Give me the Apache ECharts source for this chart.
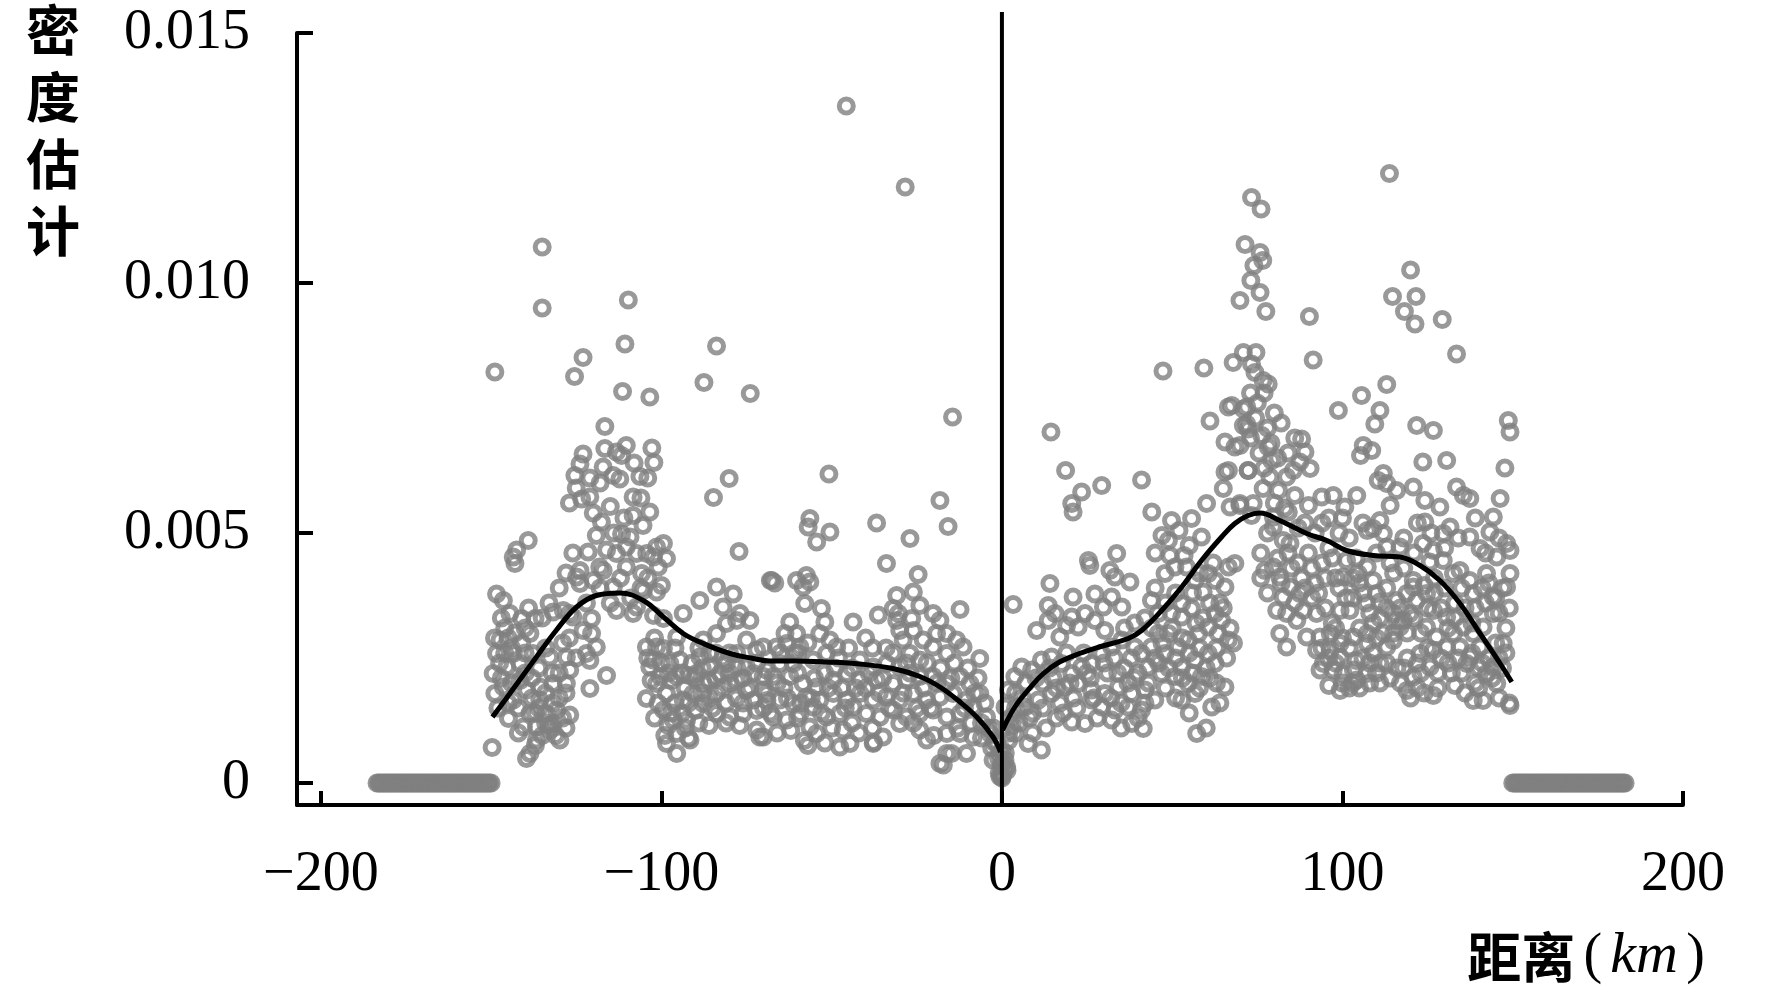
<!DOCTYPE html>
<html>
<head>
<meta charset="utf-8">
<script src="https://cdn.jsdelivr.net/npm/echarts@6/dist/echarts.min.js"></script>
<style>
  html, body { margin: 0; padding: 0; background: #fff; }
  #main { width: 1772px; height: 998px; }
</style>
</head>
<body>
<div id="main"></div>
<script>
// axis ticks
const xTicks = [-200, -100, 0, 100, 200];
const yTicks = [0, 0.005, 0.010, 0.015];

// distance (km), density x 1000
const pointsLeft = [
  [-148.9,8.22],[-135,10.72],[-135,9.50],[-109.7,9.66],[-110.7,8.78],[-123,8.51],[-125.5,8.13],[-111.4,7.83],
  [-103.4,7.72],[-83.8,8.74],[-87.5,8.01],[-73.9,7.79],[-45.7,13.54],[-28.4,11.92],[-14.5,7.32],[-50.8,6.18],
  [-80.1,6.09],[-84.7,5.71],[-102.8,6.70],[-102.2,6.41],[-116.6,7.13],[-18.2,5.65],[-15.8,5.13],[-36.8,5.2],
  [-27,4.89],[-33.9,4.39],[-56.4,5.29],[-56.9,5.12],[-54.4,4.82],[-50.5,5.02],[-77.2,4.63],[-149.7,0.71],
  [-123,6.58],[-125.4,6.15],[-123.9,6.38],[-116.6,6.69],[-117.1,6.32],[-113.2,6.62],[-110.3,6.75],[-111.7,6.55],
  [-114.2,6.15],[-112.2,6.08],[-106.3,6.13],[-123.4,5.68],[-121,5.72],[-115,5.53],[-108.3,5.72],[-108.3,5.35],
  [-103.4,5.42],[-105.4,5.15],[-117.6,5.22],[-119.1,4.95],[-111.7,4.98],[-109.2,4.92],[-110.3,4.72],[-113.2,4.59],
  [-107.3,4.59],[-105.8,4.19],[-110.3,4.32],[-104.3,4.59],[-101.4,4.72],[-99.4,4.79],[-98.5,4.49],[-100.9,4.32],
  [-102.3,4.52],[-121.5,4.62],[-116.1,4.66],[-118.1,4.32],[-123.9,4.25],[-124.9,4.12],[-123.9,3.99],[-120,4.05],
  [-117.1,4.25],[-114.1,3.92],[-105.3,3.85],[-101.4,3.82],[-107.3,3.52],[-113.2,3.45],[-108.3,3.39],[-102.3,3.35],
  [-99.4,3.29],[-120.5,3.29],[-126.9,3.39],[-131.8,3.42],[-128.8,3.45],[-137.1,3.29],[-141,3.29],[-146.4,3.65],
  [-148.4,3.78],[-144.5,3.39],[-143.5,4.52],[-143,4.39],[-139.1,4.85],[-142.5,4.66],
  [-147.4,2.86],[-148.4,2.59],[-149.4,2.19],[-148.9,1.79],[-145.4,2.32],[-143.5,2.59],[-141.5,2.05],[-146.4,1.92],
  [-143.5,1.66],[-139.6,1.86],[-141.5,2.39],[-138.6,2.99],[-137.7,2.59],[-132.8,2.52],[-127.9,2.52],[-126.9,2.26],
  [-127.9,1.99],[-131.8,1.99],[-135.7,1.92],[-135.7,1.66],[-138.6,1.39],[-133.8,1.39],[-130.8,1.46],[-126.9,1.36],
  [-144.9,1.29],[-140.5,1.12],[-136.7,1.12],[-132.8,1.06],[-129.8,0.86],[-136.7,0.86],[-138.6,0.59],[-139.6,0.49],
  [-131.8,1.19],[-126,3.32],[-123,3.05],[-120.5,2.99],[-122,2.59],[-119.1,2.72],[-121,2.45],[-116.1,2.15],[-121,1.89],
  [-146,2.6],[-144,2.0],[-142,1.5],[-140,2.2],[-138,1.7],[-136,2.3],[-134,1.8],[-132,1.6],[-130,2.2],[-128,1.8],
  [-134,2.7],[-137,1.4],[-141,2.8],[-147,2.1],[-129,1.3],[-133,1.15],[-135,0.95],
  [-147.5,2.4],[-145,2.9],[-143,3.0],[-140,2.6],[-138,2.1],[-136,1.5],[-134,1.2],[-132,2.2],[-130,1.7],[-128,1.1],
  [-131,0.95],[-137,0.75],[-142,1.0],[-145,1.6],[-148,1.5],[-127,2.9],[-125,2.5],[-129,2.8],[-140,3.1],[-144,2.7],
  [-122,3.6],[-118,3.9],[-115,3.6],[-112,4.1],[-109,3.7],[-106,3.9],[-104,4.1],[-100,3.95],[-111,5.3],[-114,5.0],
  [-120,5.4],[-108,6.4],[-104,6.1],[-106,5.7],[-118,6.0],[-121,6.1],[-125,5.9],[-127,5.6],[-126,4.6],[-128,4.2],
  [-130,3.9],[-133,3.6],[-135,3.3],[-139,3.5],[-146,3.1],[-149,2.9],[-147,3.3],
  [-104.4,2.72],[-101.4,2.72],[-99.4,2.69],[-102.4,2.46],[-103.4,2.32],[-97.5,2.39],[-94.6,2.46],[-95.5,2.13],
  [-100.4,2.13],[-101.4,1.99],[-104.4,1.69],[-98.5,1.79],[-99.4,1.46],[-96.5,1.26],[-92.6,1.26],[-93.6,1.66],
  [-90.7,1.79],[-87.7,1.99],[-89.7,2.19],[-85.8,2.32],[-82.8,2.19],[-79.9,1.99],[-83.8,1.79],[-87.7,1.59],
  [-83.8,1.39],[-79.9,1.32],[-76,1.39],[-73,1.66],[-70.1,1.86],[-72,1.06],[-71.1,0.92],[-95.5,0.99],[-91.6,0.86],
  [-95.5,0.59],[-98.5,0.79],[-88.7,2.52],[-87.7,2.86],[-83.8,2.99],[-80.9,3.19],[-77.9,3.25],[-76.9,3.39],[-74,3.25],
  [-85.8,2.59],[-77.9,2.59],[-75,2.86],[-72,2.66],[-70.1,2.13],[-73,2.19],[-75,2.32],[-77.9,2.32],[-80.9,2.39],
  [-93.6,3.39],[-95.5,2.92],[-88.7,3.65],[-83.8,3.92],[-78.9,3.78],[-81.9,3.52],[-68,4.05],
  [-97,2.05],[-93,1.9],[-91,2.4],[-86,2.05],[-82,2.5],[-78,2.05],[-75,1.85],[-72,1.45],[-69,1.65],[-90,1.45],
  [-86,1.15],[-81,1.6],[-77,1.15],[-94,1.4],[-98,1.15],[-92,2.15],[-88,1.8],[-84,2.6],[-80,2.2],[-76,1.6],
  [-101,1.6],[-103,2.05],[-96,2.7],[-89,2.7],
  [-104,2.5],[-102,2.9],[-100,2.4],[-98,2.2],[-96,1.6],[-94,2.2],[-92,1.6],[-90,2.1],[-88,2.3],[-86,1.7],
  [-84,2.1],[-82,1.9],[-80,2.6],[-78,1.7],[-76,2.1],[-74,1.9],[-72,2.4],[-70,1.5],[-97,1.4],[-93,1.1],
  [-89,1.2],[-85,1.5],[-81,1.2],[-102,1.3],[-99,0.95],[-92,0.9],
  [-24.6,4.17],[-26,3.82],[-12.3,3.47],[-6.5,2.49],[-67.6,4.05],[-66.7,4.0],[-60.3,4.05],[-57.4,4.15],[-56.4,4.02],
  [-58.4,3.92],[-57.9,3.59],[-53,3.49],[-52,3.22],[-62.3,3.22],[-63.7,2.99],[-60.3,2.99],[-43.7,3.22],[-36.3,3.36],
  [-30.9,3.75],[-31.9,3.49],[-30.4,3.39],[-24.1,3.55],[-26.5,3.29],[-20.2,3.39],[-18.2,3.25],[-19.2,2.99],[-26,3.05],
  [-23.1,2.86],[-20.2,2.72],[-16.2,2.99],[-13.3,2.86],[-11.4,2.72],[-16.2,2.59],[-29,2.86],[-30,3.05],[-30.9,3.25],
  [-27,2.59],[-24.1,2.46],
  [-70.1,2.72],[-66.2,2.72],[-63.2,2.79],[-59.3,2.72],[-53.5,2.99],[-50.5,2.86],[-48.5,2.72],[-51.5,2.59],[-55.4,2.46],
  [-61.3,2.39],[-65.2,2.39],[-69.1,2.26],[-67.2,2.13],[-62.3,2.13],[-58.4,1.99],[-54.4,1.92],[-49.5,2.06],[-45.6,2.19],
  [-41.7,2.46],[-37.8,2.32],[-33.9,2.39],[-30,2.32],[-41.7,2.06],[-36.8,2.06],[-31.9,1.99],[-28,2.06],[-24.1,2.13],
  [-20.2,2.13],[-16.2,1.99],[-12.3,2.13],[-9.4,1.99],
  [-69.1,1.79],[-65.2,1.66],[-61.3,1.59],[-57.4,1.72],[-53.5,1.66],[-49.5,1.79],[-45.6,1.66],[-41.7,1.79],[-37.8,1.66],
  [-33.9,1.72],[-30,1.66],[-26,1.79],[-22.1,1.66],[-18.2,1.72],[-14.3,1.79],[-10.4,1.66],[-6.5,1.79],
  [-67.2,1.32],[-63.2,1.26],[-59.3,1.39],[-55.4,1.52],[-51.5,1.32],[-47.6,1.39],[-43.7,1.52],[-39.8,1.39],[-35.8,1.32],
  [-31.9,1.46],[-28,1.32],[-24.1,1.39],[-20.2,1.46],[-16.2,1.32],[-12.3,1.39],[-8.4,1.52],[-4.5,1.32],
  [-70.1,0.92],[-56.4,1.12],[-54.4,0.99],[-46.6,1.06],[-47.6,0.72],[-44.6,0.79],[-37.8,0.79],[-34.9,0.92],[-30,1.19],
  [-24.1,1.06],[-22.1,0.86],[-16.2,0.99],[-12.3,0.99],[-8.4,0.92],[-16.2,0.59],[-18.2,0.39],[-10.4,0.59],[-3.5,0.99],
  [-0.6,0.59],[-2.6,0.46],[-0.6,0.13],
  [-64,1.9],[-60,2.2],[-56,1.7],[-52,2.2],[-47,1.9],[-44,2.3],[-40,1.9],[-35,2.1],[-32,2.6],[-28,2.4],[-22,2.4],
  [-18,2.3],[-14,2.4],[-10,2.3],[-8,1.8],[-5,1.6],[-4,1.1],[-2,0.8],[-6,0.9],[-9,1.2],[-13,1.1],[-20,0.95],
  [-25,1.5],[-38,1.1],[-42,1.0],[-50,1.1],[-58,0.85],[-62,1.05],[-66,1.0],[-48,2.5],[-45,2.7],[-40,2.9],[-38,2.7],
  [-57,2.8],[-60,2.6],[-65,2.6],[-57,0.75],[-37.7,0.81],[-17.2,0.36],[-14.8,0.59],
  [-66,2.0],[-63,1.7],[-61,2.6],[-59,1.6],[-55,2.1],[-53,1.4],[-51,1.9],[-49,2.3],[-46,1.5],[-43,1.9],[-39,2.2],
  [-36,1.8],[-34,2.7],[-33,1.5],[-29,1.8],[-27,2.2],[-23,1.9],[-21,1.5],[-19,2.0],[-15,2.1],[-11,1.5],[-7,2.1],
  [-6,1.2],[-3,0.7],[-26,1.2],[-44,1.2],[-52,0.8],[-60,1.3],[-68,1.4],
  [0,0.1],[-0.3,0.35],[-1,0.5],[-1.5,0.8],[-2.5,1.1],[-0.8,0.2]
];

const pointsRight = [
  [0.4,0.2],[1,0.6],[2,0.85],[3,1.15],[0.2,0.4],[1.5,0.25],[1.4,0.32],
  [14.4,7.02],[18.7,6.25],[23.4,5.82],[20.5,5.59],[20.9,5.42],[29.3,5.95],[41,6.06],[44,5.42],[49.8,5.25],
  [55.7,5.29],[58.6,4.92],[60.1,5.59],[48.9,4.85],[49.3,4.55],[47.3,8.24],
  [61.1,7.24],[66.5,7.52],[70.9,7.48],[70.9,7.15],[72.3,7.08],[65.5,6.82],[68.4,6.72],[69.9,6.75],[65.5,6.22],
  [66.5,6.25],[72.3,6.25],[65,5.89],[67,5.52],[69.9,5.59],[73.3,5.35],[77.2,4.25],
  [33.7,4.59],[25.4,4.45],[25.8,4.35],[31.7,4.25],[33.2,4.12],[37.6,4.02],[14.1,3.99],[3.3,3.57],[13.6,3.55],
  [20.9,3.72],[27.3,3.78],[32.2,3.72],[35.2,3.52],[29.8,3.52],[24.4,3.39],[20.5,3.32],[15.6,3.39],[19,3.15],
  [10.2,3.05],[13.6,3.25],[17,2.92],[22.4,3.12],[27.3,3.25],[30.2,3.05],
  [43.9,3.65],[45.9,3.39],[47.9,4.19],[50.8,4.32],[54.2,4.32],[56.7,4.05],[60.6,4.19],[66.5,4.32],[68.4,4.39],
  [62.6,4.05],[65.5,3.92],[59.1,3.82],[52.8,3.59],[49.8,3.39],[52.8,3.32],[55.7,3.49],
  [62.6,3.39],[64.5,3.25],[66.5,2.86],[63.5,2.99],[60.6,3.12],[57.7,2.99],[54.7,2.86],[51.8,2.72],[48.9,2.99],
  [45.9,2.99],[43.9,2.72],[47.9,2.59],[52.8,2.32],[56.7,2.46],[60.6,2.59],[62.6,2.39],[58.6,2.13],[54.7,1.99],
  [50.8,2.13],[46.9,2.19],[42.9,2.32],[41,2.59],[39,2.72],[35.2,2.86],[32.2,2.72],[29.3,2.59],[26.3,2.39],
  [23.4,2.32],[20.5,2.19],[17.5,2.39],[14.6,2.52],[11.6,2.46],[8.7,2.26],[5.8,2.32],[3.8,2.13],[1.9,1.86],
  [0.9,1.52],[2.8,1.32],[6.8,1.52],[10.7,1.66],[14.6,1.79],[18.5,1.92],[22.4,1.99],[26.3,1.86],[30.2,1.79],
  [34.2,1.92],[38.1,1.79],[42,1.86],[44.9,1.66],[41,1.46],[37.1,1.52],[33.2,1.46],[29.3,1.52],[26.3,1.66],
  [32.2,1.26],[38.1,1.19],[41.5,1.09],[20.5,1.22],[24.4,1.19],[11.6,0.66],[7.7,0.79],[3.8,0.99],[0,0.66],
  [0.9,0.46],[0,0.13],[52.8,1.66],[56.7,1.79],[61.6,1.52],[65.5,1.92],[57.2,0.99],
  [4,1.8],[7,2.0],[9,1.4],[12,2.0],[15,2.1],[17,1.6],[19,2.6],[21,1.7],[24,2.6],[26,2.1],[28,1.3],[31,2.2],
  [33,2.5],[35,1.6],[36,2.3],[39,2.1],[40,1.3],[43,2.0],[45,2.5],[35,1.1],[16,1.3],[9,1.0],[13,1.1],[5,1.2],
  [44,3.1],[47,2.8],[50,3.1],[53,2.9],[55,2.6],[58,2.7],[60,2.3],[63,2.7],[67,3.1],[64,3.6],[59,3.3],[48,1.9],
  [51,1.7],[55,1.4],[60,1.1],[64,1.6],[47,4.95],[52,5.05],[55,4.75],[45,4.6],[53.5,4.55],
  [2,1.0],[4,1.5],[6,1.7],[8,1.3],[10,2.1],[12,1.5],[14,2.3],[16,1.9],[18,1.4],[20,2.0],[22,1.5],[25,2.2],
  [27,1.7],[30,2.4],[32,1.7],[34,2.2],[37,2.0],[38,2.5],[40,2.2],[42,1.6],[46,2.4],[49,2.3],[51,2.5],[53,2.1],
  [56,2.2],[58,1.9],[61,2.1],[63,2.0],[66,2.5],[68,2.8],[57,3.2],[61,3.6],[65,3.5],[62,4.4],[58,4.2],[56,3.8],
  [51,3.8],[48,3.6],[45,3.9],[42,3.3],[39,3.2],[36,3.1],
  [98.8,7.45],[105.6,7.75],[113,7.97],[111,7.45],[109.5,7.18],[108.6,6.65],[105.3,6.55],[106.1,6.75],[121.8,7.15],
  [126.7,7.05],[123.6,6.42],[130.6,6.45],[148.7,7.25],[149.2,7.02],[147.7,6.30],
  [71.9,7.52],[71.9,7.18],[76.3,6.95],[78.2,6.72],[79.2,6.45],[88,6.88],[89,6.62],[90.5,6.29],[87.5,6.42],
  [85.6,6.25],[83.6,6.12],[78.7,6.12],[76.7,5.89],[81.2,5.85],[86,5.75],[90,5.55],[93.9,5.72],[97.3,5.75],
  [100.7,5.52],[104.2,5.75],[72.3,6.25],[73.8,5.59],[69.9,5.55],[79.7,5.32],[84.1,5.42],[82.6,4.85],[84.6,4.79],
  [79.7,5.12],[74.5,7.3],[75.5,6.6],[77,6.3],[73,6.9],[78,7.1],
  [79,6.8],[81,6.5],[84,6.6],[86,6.9],[82,7.2],[80,7.4],[75,7.6],[77,7.8],[73,7.8],
  [112,6.19],[110.5,6.05],[113,5.99],[115.9,5.85],[120.8,5.92],[124.2,5.65],[128.6,5.52],[133.5,5.92],[135.5,5.75],
  [137.4,5.69],[146.3,5.69],[144.3,5.32],[143.3,5.02],[124.2,5.22],[114,5.55],[111,5.25],[109,5.09],[107.3,5.05],
  [112,4.99],[116.9,4.72],[113,4.72],[123.7,4.79],[126.7,4.65],[129.6,4.99],[131.6,5.12],[137.4,4.92],[140.4,4.69],
  [148.2,4.79],[149.2,4.65],[145.3,4.52],[142.3,4.19],[149.2,4.19],[148.2,3.92],[144.3,3.72],[138.4,3.79],[137.4,4.05],
  [134.5,4.25],[132.6,4.19],[129.6,4.45],[125.7,4.42],[120.8,4.05],[118.9,3.79],[115.9,3.65],[114.9,3.39],[117.9,3.25],
  [110,3.79],[111,3.62],[102.2,3.45],[99.3,3.45],[101.2,4.45],[100.2,4.12],[104.6,4.19],[107.3,4.32],[109,4.05],
  [80,5.6],[83,5.5],[87,5.1],[92,5.0],[96,5.3],[100,5.3],[106,5.2],[110,4.6],[114,4.4],[118,4.9],[122,5.2],
  [126,5.0],[130,4.7],[134,4.9],[139,5.3],[142,4.6],[146,4.9],
  [79.7,4.32],[81.6,4.12],[84.6,3.92],[87.5,3.79],[82.6,3.72],[80.7,3.45],[83.6,3.39],[88.5,3.45],[92.4,3.39],
  [86.6,3.25],[81.6,2.99],[83.6,2.72],[89.5,2.92],[93.4,2.92],[96.4,2.99],[99.3,2.79],[103.2,2.92],[107.3,2.99],
  [107.3,2.79],[92.4,2.66],[96.4,2.66],[99.3,2.52],[94.4,2.39],[93.4,2.26],[97.3,2.26],[100.2,2.19],[99.3,1.85],
  [103.2,2.26],[104.2,2.06],[107.3,2.19],[114.9,2.85],[113,2.72],[116.9,3.12],[119.8,3.39],[115.9,3.25],[121.8,3.65],
  [124.7,3.79],[126.7,3.45],[124.7,3.12],[127.6,2.92],[130.6,3.32],[132.6,2.99],[135.5,3.12],[138.4,2.99],[141.3,3.12],
  [144.3,3.39],[147.2,2.79],[140.4,2.72],[137.4,2.52],[134.5,2.72],[130.6,2.72],[126.7,2.66],[122.8,2.59],[125.7,2.32],
  [120.8,2.12],[118.9,1.85],[126.7,1.75],[138.4,1.65],[141.3,1.65],[145.3,1.99],[149.2,1.55],[144.3,2.32],[142.3,2.19],
  [136.5,2.39],[120.8,3.92],
  [76,4.6],[78,5.0],[81,4.5],[85,4.3],[88,4.1],[90,4.6],[92,4.0],[94,4.4],[96,4.7],[98,4.1],[91,3.7],[95,3.5],
  [97,3.2],[86,3.6],[78,3.8],[76,4.1],[89,5.2],[94,5.2],[99,5.0],[102,4.9],[104,4.5],[106,3.8],[108,3.4],[103,3.7],
  [105,3.1],[109,2.6],[111,2.4],[102,2.7],[104,2.45],[98,2.4],[100,2.0],[96,1.95],[102,1.9],[108,2.0],[110,2.9],
  [113,3.9],[115,4.2],[118,4.3],[121,4.6],[124,3.95],[127,4.1],[130,3.9],[133,3.6],[135,3.9],[139,3.5],[142,3.6],
  [146,3.4],[148,3.1],[145,2.8],[143,2.5],[140,2.3],[135,2.2],[131,2.4],[128,2.2],[123,2.2],[119,2.5],[116,2.3],
  [113,2.4],[112,3.0],[147,2.3],[149,1.6],[146,1.7],[139,2.0],[133,1.95],[120,1.7],[117,2.0],[111,2.0],
  [82,4.0],[84,4.6],[87,4.4],[89,3.9],[91,4.3],[93,3.8],[95,4.1],[97,4.5],[99,3.9],[101,3.7],[103,4.1],[105,4.0],
  [107,3.6],[109,3.2],[111,3.3],[113,3.5],[115,3.0],[117,3.5],[119,3.0],[121,3.3],[123,3.0],[125,3.5],[127,3.8],
  [129,3.5],[131,3.1],[133,3.3],[136,3.5],[138,3.2],[141,3.9],[143,4.0],[145,3.7],[147,3.9],[149,3.5],[100,2.9],
  [98,3.1],[96,2.5],[94,2.7],[106,2.5],[108,2.4],[103,2.0],[105,1.9],[110,2.2],[114,2.1],[118,2.3],[122,2.4],
  [125,2.7],[129,2.5],[132,2.2],[134,2.5],[138,2.6],[141,2.4],[144,2.1],[146,2.5],[148,2.6],[128,1.9],[124,1.8],
  [122,1.9],[136,1.8],[140,1.9],
  [113.8,12.19],[73.3,11.71],[76.1,11.48],[71.4,10.77],[75.8,10.61],[76.6,10.45],[74,10.35],[73.1,10.05],
  [75.8,9.81],[69.9,9.65],[77.5,9.43],[90.3,9.33],[120,10.26],[114.7,9.73],[121.6,9.73],[118.2,9.43],[121.3,9.18],
  [129.3,9.27],[133.5,8.58],[91.4,8.46],[59.3,8.30],[67.9,8.41],[70.9,8.61],[74.6,8.61],[73.3,8.38],[74.3,8.21],
  [76.7,8.05],[78.2,7.98],[67.5,7.55]
];

// zero-density observations beyond the bandwidth window (km)
const zerosLeft = [
  -183.5,-183,-182.5,-182,-181.5,-181,-180.5,-180,-179.5,-179,-178.5,-178,-177.5,-177,-176.5,-176,-175.5,-175,
  -174.5,-174,-173.5,-173,-172.5,-172,-171.5,-171,-170.5,-170,-169.5,-169,-168.5,-168,-167.5,-167,-166.5,-166,
  -165.5,-165,-164.5,-164,-163.5,-163,-162.5,-162,-161.5,-161,-160.5,-160,-159.5,-159,-158.5,-158,-157.5,-157,
  -156.5,-156,-155.5,-155,-154.5,-154,-153.5,-153,-152.5,-152,-151.5,-151,-150.5,-150
];
const zerosRight = [
  150,150.5,151,151.5,152,152.5,153,153.5,154,154.5,155,155.5,156,156.5,157,157.5,158,158.5,159,159.5,160,160.5,
  161,161.5,162,162.5,163,163.5,164,164.5,165,165.5,166,166.5,167,167.5,168,168.5,169,169.5,170,170.5,171,171.5,
  172,172.5,173,173.5,174,174.5,175,175.5,176,176.5,177,177.5,178,178.5,179,179.5,180,180.5,181,181.5,182,182.5,183
];

// fitted density curves (km, density x 1000)
const curveLeft = [
  [-149.6,1.32],[-144.5,1.79],[-136.7,2.52],[-130.8,3.06],[-124.9,3.52],[-119.1,3.75],[-112.2,3.80],[-105.3,3.65],
  [-99.4,3.32],[-93.6,2.99],[-87.7,2.79],[-79.9,2.59],[-73,2.49],[-68.1,2.44],[-61.3,2.44],[-51.5,2.42],
  [-41.7,2.38],[-32,2.29],[-24.1,2.13],[-18.2,1.92],[-12.3,1.62],[-7.4,1.32],[-2.6,0.92],[-0.4,0.62]
];
const curveRight = [
  [0.2,1.06],[3.8,1.52],[7.7,1.86],[12.2,2.19],[16.9,2.42],[22.8,2.59],[28.5,2.72],[37.1,2.89],[41,3.05],
  [46.9,3.45],[52.8,3.92],[58.6,4.45],[64.5,4.92],[68.4,5.19],[72.3,5.35],[75.8,5.40],[81.6,5.25],[89.5,4.99],
  [95.4,4.85],[101.2,4.65],[109,4.55],[116.9,4.52],[122.8,4.35],[128.6,4.05],[134.5,3.59],[140.4,2.99],
  [146.3,2.39],[149.7,2.02]
];

const yMin = -0.00044;
const yTop = 0.01542;   // the cutoff line runs a little above the axis

const toDensity = (p) => [p[0], p[1] / 1000];
const scatterData = pointsLeft.map(toDensity)
  .concat(pointsRight.map(toDensity))
  .concat(zerosLeft.map((x) => [x, 0]))
  .concat(zerosRight.map((x) => [x, 0]));

const serif = "'Liberation Serif', 'Times New Roman', serif";
const cjk = "'Noto Sans CJK SC', sans-serif";

const chart = echarts.init(document.getElementById('main'));
chart.setOption({
  animation: false,
  backgroundColor: '#fff',
  title: [
    {
      text: '密\n度\n估\n计',
      left: 26, top: -3, padding: 0,
      textStyle: { fontFamily: cjk, fontSize: 54, fontWeight: 'bold', lineHeight: 67, color: '#000' }
    },
    {
      text: '{c|距离}{p|(}{k|km}{q|)}',
      right: 59, top: 927, padding: 0,
      textStyle: {
        fontWeight: 'normal',
        rich: {
          c: { fontFamily: cjk, fontSize: 54, fontWeight: 'bold', color: '#000', lineHeight: 60 },
          p: { fontFamily: serif, fontSize: 56, fontWeight: 'normal', color: '#000', width: 35, align: 'right', lineHeight: 60 },
          k: { fontFamily: serif, fontSize: 58, fontWeight: 'normal', fontStyle: 'italic', color: '#000', lineHeight: 60 },
          q: { fontFamily: serif, fontSize: 56, fontWeight: 'normal', color: '#000', width: 35, align: 'center', lineHeight: 60 }
        }
      }
    }
  ],
  grid: { left: 297, right: 89, top: 33, bottom: 193, outerBoundsMode: 'none' },
  xAxis: {
    type: 'value',
    min: -207, max: 200,
    splitLine: { show: false },
    axisLine: { onZero: false, lineStyle: { color: '#000', width: 4 } },
    axisTick: { inside: true, length: 14, customValues: xTicks, lineStyle: { color: '#000', width: 4 } },
    axisLabel: {
      customValues: xTicks, margin: 42,
      fontFamily: serif, fontSize: 56, color: '#000',
      formatter: (v) => (v < 0 ? '\u2212' + Math.abs(v) : String(v))
    }
  },
  yAxis: {
    type: 'value',
    min: yMin, max: 0.015,
    splitLine: { show: false },
    axisLine: { onZero: false, lineStyle: { color: '#000', width: 4 } },
    axisTick: { inside: true, length: 16, customValues: yTicks, lineStyle: { color: '#000', width: 4 } },
    axisLabel: {
      customValues: yTicks, margin: 47,
      fontFamily: serif, fontSize: 56, color: '#000', padding: [0, 0, 7, 0],
      formatter: (v) => (v === 0 ? '0' : v.toFixed(3))
    }
  },
  series: [
    {
      type: 'scatter',
      data: scatterData,
      symbol: 'circle',
      symbolSize: 14,
      itemStyle: { color: 'rgba(0,0,0,0)', borderColor: '#808080', borderWidth: 5 },
      emphasis: { disabled: true },
      z: 2
    },
    {
      type: 'line',
      data: curveLeft.map(toDensity),
      smooth: 0.4, showSymbol: false,
      lineStyle: { color: '#000', width: 5 },
      z: 3
    },
    {
      type: 'line',
      data: curveRight.map(toDensity),
      smooth: 0.4, showSymbol: false,
      lineStyle: { color: '#000', width: 5 },
      z: 3
    },
    {
      type: 'line',
      data: [[0, yMin], [0, yTop]],
      showSymbol: false, clip: false,
      lineStyle: { color: '#000', width: 4 },
      z: 4
    }
  ]
});
</script>
</body>
</html>
